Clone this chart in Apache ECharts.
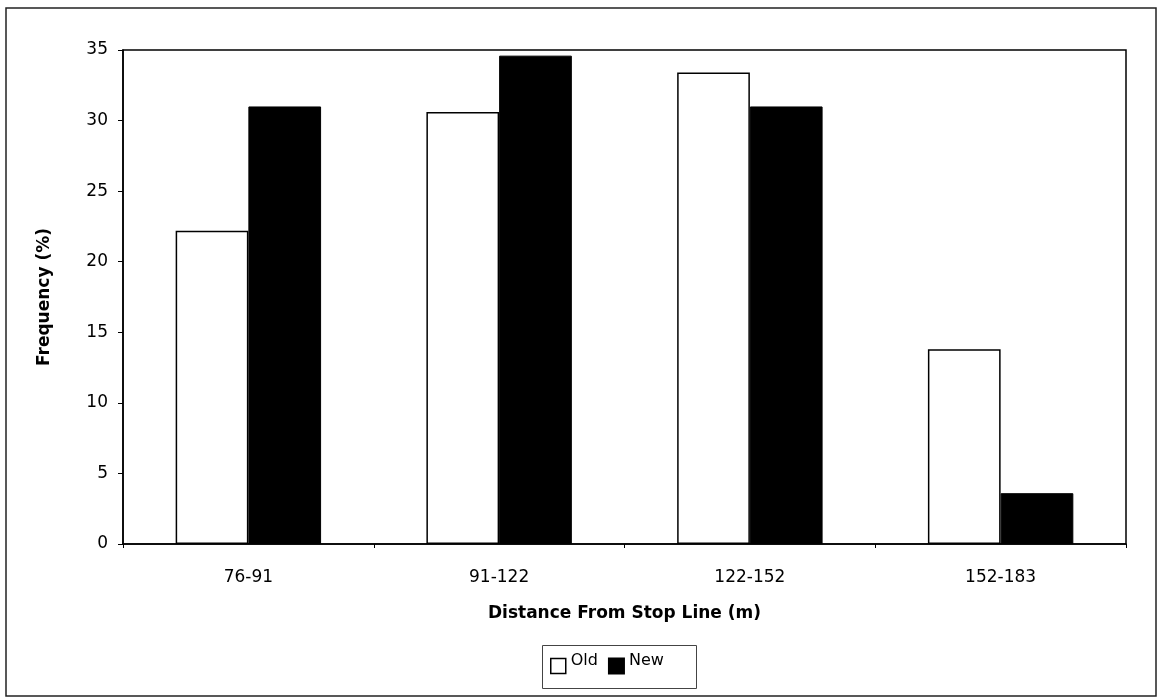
<!DOCTYPE html>
<html><head><meta charset="utf-8">
<script src="https://cdn.jsdelivr.net/npm/echarts@6/dist/echarts.min.js"></script>
<style>html,body{margin:0;padding:0;background:#fff}#c{width:1162px;height:700px}</style>
</head><body><div id="c"></div>
<script>
const categories = ['76-91', '91-122', '122-152', '152-183'];
const oldValues = [22.2, 30.6, 33.4, 13.8];
const newValues = [31.0, 34.6, 31.0, 3.6];
const seriesNames = ['Old', 'New'];

const FONT = '"DejaVu Sans", Arial, sans-serif';
const chart = echarts.init(document.getElementById('c'));
chart.setOption({
  animation: false,
  backgroundColor: '#fff',
  textStyle: { fontFamily: FONT, color: '#000' },
  graphic: [
    { type: 'rect', shape: { x: 6, y: 8, width: 1150, height: 688 }, style: { fill: 'none', stroke: '#222', lineWidth: 1.5 }, z: -1 },
    { type: 'rect', left: 540, top: 643, shape: { width: 154, height: 43 }, style: { fill: 'none', stroke: '#444', lineWidth: 1 } }
  ],
  grid: { left: 123, right: 36, top: 50, bottom: 156, show: true, borderColor: '#000', borderWidth: 1.5, backgroundColor: 'transparent' },
  legend: {
    data: [
      { name: 'Old', icon: 'rect', itemStyle: { color: '#fff', borderColor: '#000', borderWidth: 1.5 } },
      { name: 'New', icon: 'rect' }
    ],
    left: 545, top: 648, itemWidth: 15, itemHeight: 15, itemGap: 10,
    formatter: '{s|{name}}',
    textStyle: { fontFamily: FONT, fontSize: 16, color: '#000',
      rich: { s: { fontFamily: FONT, fontSize: 16, color: '#000', padding: [0, 0, 10, 0] } } }
  },
  xAxis: {
    type: 'category', data: categories,
    name: 'Distance From Stop Line (m)', nameLocation: 'middle', nameGap: 61,
    nameTextStyle: { fontFamily: FONT, fontSize: 17, fontWeight: 'bold', color: '#000' },
    axisLine: { lineStyle: { color: '#000', width: 1.5 } },
    axisTick: { show: true, length: 4, lineStyle: { color: '#000' } },
    axisLabel: { fontFamily: FONT, fontSize: 17, color: '#000', margin: 25 }
  },
  yAxis: {
    type: 'value', min: 0, max: 35, interval: 5,
    name: 'Frequency (%)', nameLocation: 'middle', nameGap: 70,
    nameTextStyle: { fontFamily: FONT, fontSize: 17, fontWeight: 'bold', color: '#000' },
    axisLine: { show: true, lineStyle: { color: '#000', width: 1.5 } },
    axisTick: { show: true, length: 5, lineStyle: { color: '#000' } },
    axisLabel: { fontFamily: FONT, fontSize: 17, color: '#000', margin: 15 },
    splitLine: { show: false }
  },
  series: [
    { name: seriesNames[0], type: 'bar', data: oldValues, barGap: '0%', barCategoryGap: '42%',
      itemStyle: { color: '#fff', borderColor: '#000', borderWidth: 1.5 } },
    { name: seriesNames[1], type: 'bar', data: newValues, barGap: '0%', barCategoryGap: '42%',
      itemStyle: { color: '#000', borderColor: '#000', borderWidth: 1 } }
  ]
});
</script></body></html>
